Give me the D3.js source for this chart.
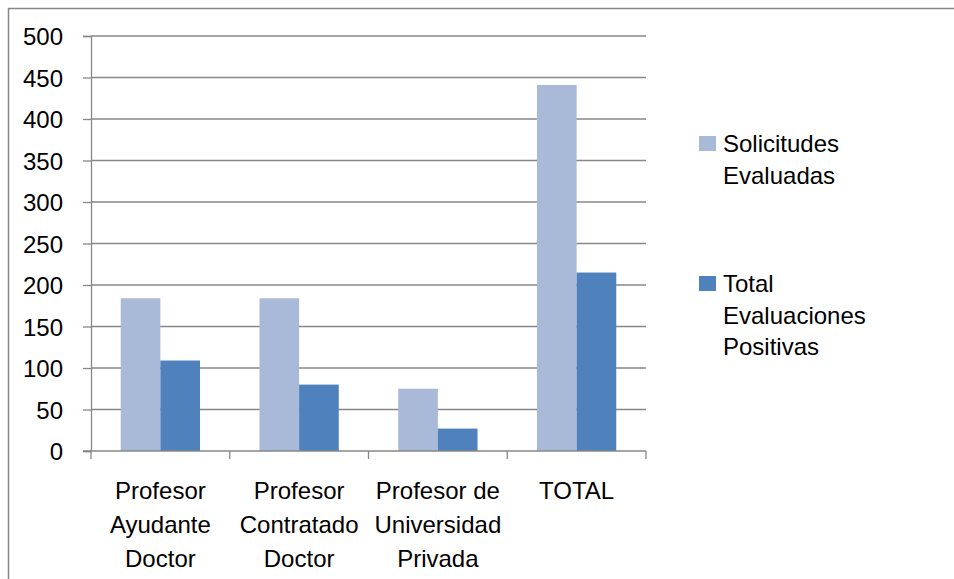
<!DOCTYPE html>
<html>
<head>
<meta charset="utf-8">
<script src="https://cdn.jsdelivr.net/npm/d3@7"></script>
<style>
  body { margin: 0; background: #fff; }
  svg text { font-family: "Liberation Sans", Arial, sans-serif; fill: #000; }
</style>
</head>
<body>
<svg id="chart" width="954" height="579"></svg>
<script>
// data
let categories = [
    ["Profesor", "Ayudante", "Doctor"],
    ["Profesor", "Contratado", "Doctor"],
    ["Profesor de", "Universidad", "Privada"],
    ["TOTAL"]
]
let seriesNames = [["Solicitudes", "Evaluadas"], ["Total", "Evaluaciones", "Positivas"]]
let solicitudes = [184, 184, 75, 441]
let positivas = [109, 80, 27, 215]
let yTicks = [0, 50, 100, 150, 200, 250, 300, 350, 400, 450, 500]
let colors = ['#A9B9D8', '#4F81BD']

let svg = d3.select('#chart')
let fontSize = 24
let gridColor = '#878787'

// outer frame (runs off the right / bottom edge like the source image)
svg.append('rect')
    .attr('x', 8.5).attr('y', 8.5)
    .attr('width', 960).attr('height', 590)
    .attr('fill', 'none')
    .attr('stroke', gridColor)
    .attr('stroke-width', 1.5)

let plot = { left: 91, right: 646, top: 36, bottom: 451 }

let x = d3.scaleBand()
    .domain(d3.range(categories.length))
    .range([plot.left, plot.right])

let y = d3.scaleLinear()
    .domain([0, 500])
    .range([plot.bottom, plot.top])

// gridlines
svg.append('g')
    .selectAll('line')
    .data(yTicks.filter(d => d > 0))
    .enter()
    .append('line')
    .attr('x1', plot.left).attr('x2', plot.right)
    .attr('y1', d => y(d)).attr('y2', d => y(d))
    .attr('stroke', gridColor)
    .attr('stroke-width', 1.3)

// bars: gap width 150% like excel
let barW = x.bandwidth() / 3.5
let bars = svg.append('g')
let series = [solicitudes, positivas]
series.forEach((vals, s) => {
    bars.selectAll('rect.s' + s)
        .data(vals)
        .enter()
        .append('rect')
        .attr('class', 's' + s)
        .attr('x', (d, i) => x(i) + barW * 0.75 + s * barW)
        .attr('y', d => y(d))
        .attr('width', barW)
        .attr('height', d => y(0) - y(d))
        .attr('fill', colors[s])
})

// y axis
let yAxis = d3.axisLeft(y)
    .tickValues(yTicks)
    .tickSize(8)
    .tickPadding(20)

let yg = svg.append('g')
    .attr('transform', 'translate(' + plot.left + ',0)')
    .call(yAxis)
yg.select('.domain').attr('stroke', gridColor).attr('stroke-width', 1.3)
yg.selectAll('.tick line').attr('stroke', gridColor).attr('stroke-width', 1.3)
yg.selectAll('.tick text')
    .style('font-size', fontSize + 'px')
    .attr('dy', '0.36em')

// x axis
let xAxis = d3.axisBottom(x).tickSize(0).tickFormat('')
let xg = svg.append('g')
    .attr('transform', 'translate(0,' + plot.bottom + ')')
    .call(xAxis)
xg.select('.domain').remove()
xg.append('line')
    .attr('x1', plot.left - 8).attr('x2', plot.right)
    .attr('stroke', gridColor).attr('stroke-width', 1.3)
xg.selectAll('line.sep')
    .data(d3.range(categories.length + 1))
    .enter()
    .append('line')
    .attr('class', 'sep')
    .attr('x1', i => plot.left + i * x.step())
    .attr('x2', i => plot.left + i * x.step())
    .attr('y1', 0).attr('y2', 8)
    .attr('stroke', gridColor).attr('stroke-width', 1.3)

let labels = svg.append('g')
categories.forEach((lines, i) => {
    let t = labels.append('text')
        .attr('text-anchor', 'middle')
        .style('font-size', fontSize + 'px')
    lines.forEach((ln, k) => {
        t.append('tspan')
            .attr('x', x(i) + x.bandwidth() / 2)
            .attr('y', 499 + k * 34)
            .text(ln)
    })
})

// legend
let legendY = [136, 276]
let legend = svg.append('g')
seriesNames.forEach((lines, s) => {
    legend.append('rect')
        .attr('x', 699).attr('y', legendY[s])
        .attr('width', 17).attr('height', 15)
        .attr('fill', colors[s])
    let t = legend.append('text').style('font-size', fontSize + 'px')
    lines.forEach((ln, k) => {
        t.append('tspan')
            .attr('x', 723)
            .attr('y', legendY[s] + 16 + k * 31.5)
            .text(ln)
    })
})
</script>
</body>
</html>
